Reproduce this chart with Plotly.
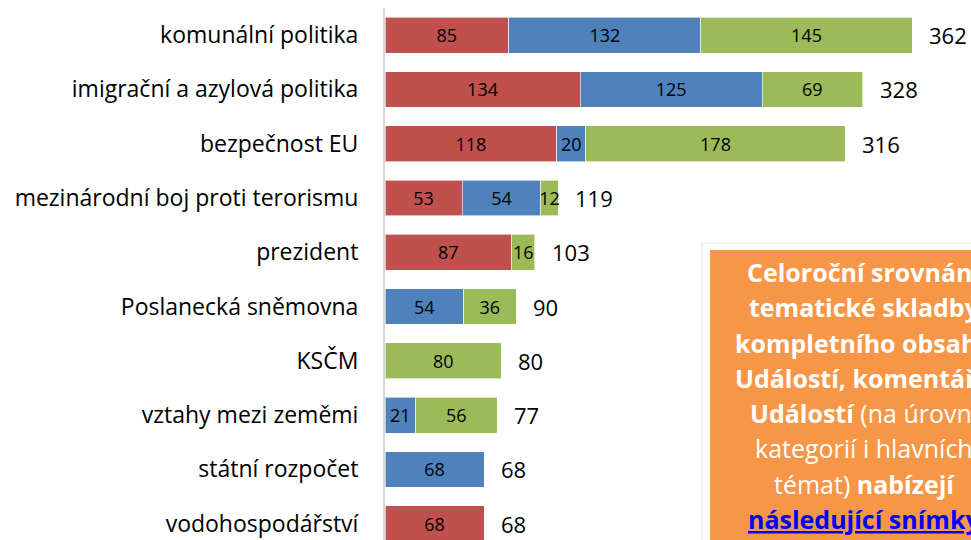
import plotly.graph_objects as go

categories = ["komunální politika", "imigrační a azylová politika", "bezpečnost EU",
              "mezinárodní boj proti terorismu", "prezident", "Poslanecká sněmovna",
              "KSČM", "vztahy mezi zeměmi", "státní rozpočet", "vodohospodářství"]
red_vals = [85, 134, 118, 53, 87, None, None, None, None, 68]
blue_vals = [132, 125, 20, 54, None, 54, None, 21, 68, None]
green_vals = [145, 69, 178, 12, 16, 36, 80, 56, None, None]
totals = [362, 328, 316, 119, 103, 90, 80, 77, 68, 68]

box_lines = [
    "<b>Celoroční srovnání</b>",
    "<b>tematické skladby</b>",
    "<b>kompletního obsahu</b>",
    "<b>Událostí, komentářů</b>",
    "<b>Událostí</b> (na úrovni",
    "kategorií i hlavních",
    "témat) <b>nabízejí</b>",
    "<span style='color:#0000FF'><b><u>následující snímky</u></b></span>",
]

FONT = "Open Sans"
W, H = 971, 540
ML, MT = 385, 8

fig = go.Figure()
for vals, color in [(red_vals, "#C0504D"), (blue_vals, "#4F81BD"), (green_vals, "#9BBB59")]:
    fig.add_trace(go.Bar(
        y=categories, x=vals, orientation="h",
        marker=dict(color=color, line=dict(color="rgba(255,255,255,0.6)", width=1)),
        text=[str(v) if v else "" for v in vals],
        textposition="inside", insidetextanchor="middle", textangle=0,
        constraintext="none",
        insidetextfont=dict(family=FONT, size=18, color="#000000"),
        hoverinfo="skip", showlegend=False,
    ))

for c, t in zip(categories, totals):
    fig.add_annotation(x=t, y=c, xref="x", yref="y", text=str(t), showarrow=False,
                       xanchor="left", xshift=15,
                       font=dict(family=FONT, size=22, color="#000000"))

def px(xp):
    return (xp - ML) / (W - ML)

def py(yp):
    return (H - yp) / (H - MT)

# orange info box (partly outside the page, as in the reference)
fig.add_shape(type="rect", xref="paper", yref="paper",
              x0=px(702), x1=px(1010), y0=py(560), y1=py(243),
              fillcolor="#FFFFFF", line=dict(color="#E6E6E6", width=1), layer="above")
fig.add_shape(type="rect", xref="paper", yref="paper",
              x0=px(710), x1=px(1010), y0=py(560), y1=py(250),
              fillcolor="#F79646", line=dict(width=0), layer="above")
for i, line in enumerate(box_lines):
    fig.add_annotation(x=px(864), y=py(272 + 35.3 * i), xref="paper", yref="paper",
                       text=line, showarrow=False, xanchor="center", yanchor="middle",
                       font=dict(family=FONT, size=25, color="#FFFFFF"))

fig.update_layout(
    barmode="stack", bargap=0.34,
    width=W, height=H,
    margin=dict(l=ML, r=0, t=MT, b=0, pad=0),
    plot_bgcolor="#FFFFFF", paper_bgcolor="#FFFFFF",
    font=dict(family=FONT),
)
fig.update_xaxes(visible=False, range=[0, 402.5], fixedrange=True)
fig.update_yaxes(range=[9.3, -0.5], showline=True, linecolor="#D9D9D9", linewidth=2,
                 ticks="", ticklabelstandoff=20, showgrid=False, zeroline=False,
                 tickfont=dict(family=FONT, size=23, color="#000000"))

fig.write_html("out.html", config={"displayModeBar": False},
               post_script="document.body.style.margin='0';document.body.style.overflow='hidden';")
